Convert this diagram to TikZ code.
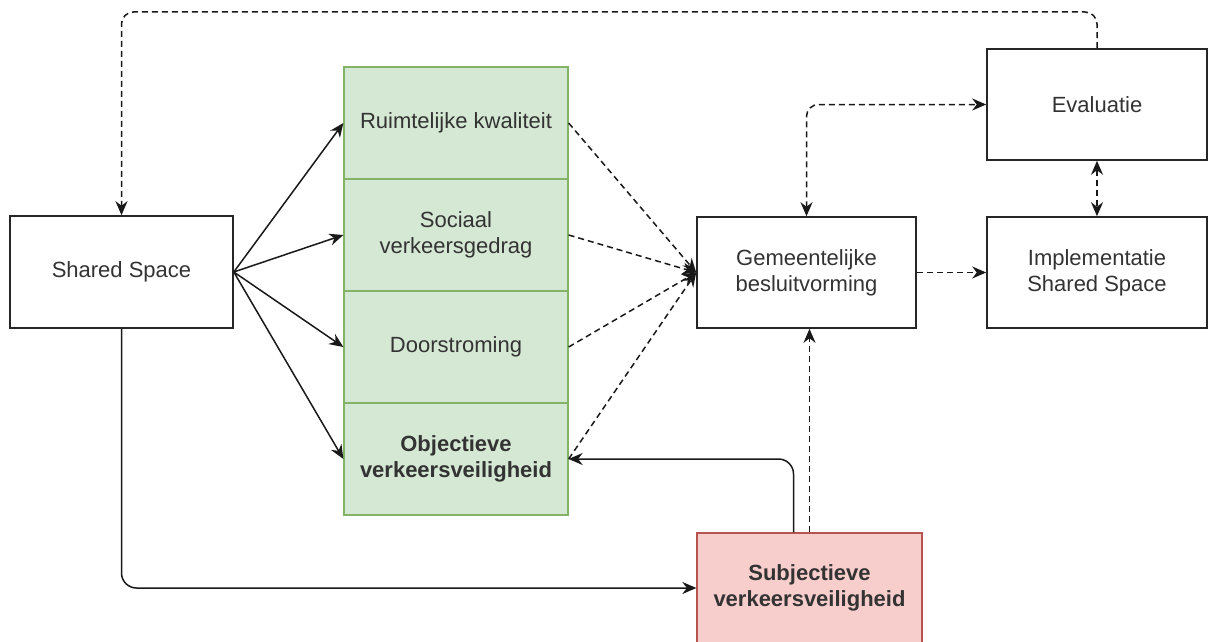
\documentclass[tikz,border=0pt]{standalone}
\usepackage{fontspec}
\setmainfont{Liberation Sans}
\usetikzlibrary{arrows.meta}
\definecolor{gfill}{HTML}{D5E8D4}
\definecolor{gline}{HTML}{82B366}
\definecolor{rfill}{HTML}{F8CECC}
\definecolor{rline}{HTML}{B85450}
\definecolor{txt}{HTML}{333333}
\tikzset{
  box/.style={draw=black!85, line width=1.6pt, fill=white, align=center, text=txt,
    font=\fontsize{22}{26}\selectfont, inner sep=2pt},
  greenbox/.style={box, line width=1.3pt, draw=gline, fill=gfill, minimum width=224pt, minimum height=112pt},
  redbox/.style={box, line width=1.3pt, draw=rline, fill=rfill, minimum width=225pt, minimum height=110pt},
  wbox/.style={box, minimum width=220pt, minimum height=111pt},
  conn/.style={line width=1.5pt, draw=black!90, -{Stealth[length=14pt,width=12pt]}},
  dconn/.style={conn, dash pattern=on 6pt off 4pt},
  bconn/.style={dconn, {Stealth[length=14pt,width=12pt]}-{Stealth[length=14pt,width=12pt]}},
}
\begin{document}
\begin{tikzpicture}[x=1pt,y=-1pt]
\useasboundingbox (0,0) rectangle (1216,642);
\fill[white] (0,0) rectangle (1216,642);
% nodes
\node[box, minimum width=223pt, minimum height=112pt] (ss) at (121.5,272) {Shared Space};
\node[greenbox] (r) at (456,123) {Ruimtelijke kwaliteit};
\node[greenbox] (s) at (456,235) {Sociaal\\verkeersgedrag};
\node[greenbox] (d) at (456,347) {Doorstroming};
\node[greenbox, font=\fontsize{22}{26}\selectfont\bfseries] (o) at (456,459) {Objectieve\\verkeersveiligheid};
\node[wbox, minimum width=219pt] (gem) at (806.5,272.5) {Gemeentelijke\\besluitvorming};
\node[wbox] (ev) at (1097,104.5) {Evaluatie};
\node[wbox] (impl) at (1097,272.5) {Implementatie\\Shared Space};
\node[redbox, font=\fontsize{22}{26}\selectfont\bfseries] (subj) at (809.5,588) {Subjectieve\\verkeersveiligheid};
% solid arrows from Shared Space
\draw[conn] (ss.east) -- (r.west);
\draw[conn] (ss.east) -- (s.west);
\draw[conn] (ss.east) -- (d.west);
\draw[conn] (ss.east) -- (o.west);
% dashed arrows into Gemeentelijke besluitvorming
\draw[dconn] (r.east) -- (gem.west);
\draw[dconn] (s.east) -- (gem.west);
\draw[dconn] (d.east) -- (gem.west);
\draw[dconn] (o.east) -- (gem.west);
% other connectors
\draw[dconn] (gem.east) -- (impl.west);
\draw[bconn, rounded corners=12pt] (gem.north) |- (ev.west);
\draw[bconn] (ev.south) -- (impl.north);
\coordinate (topy) at (0,12);
\draw[dconn, rounded corners=12pt] (ev.north) -- (ev.north |- topy) -- (ss.north |- topy) -- (ss.north);
\draw[dconn] (subj.north) -- (subj.north |- gem.south);
\draw[conn, rounded corners=15pt] ([xshift=-16pt]subj.north) |- (o.east);
\draw[conn, rounded corners=15pt] (ss.south) |- (subj.west);
\end{tikzpicture}
\end{document}
